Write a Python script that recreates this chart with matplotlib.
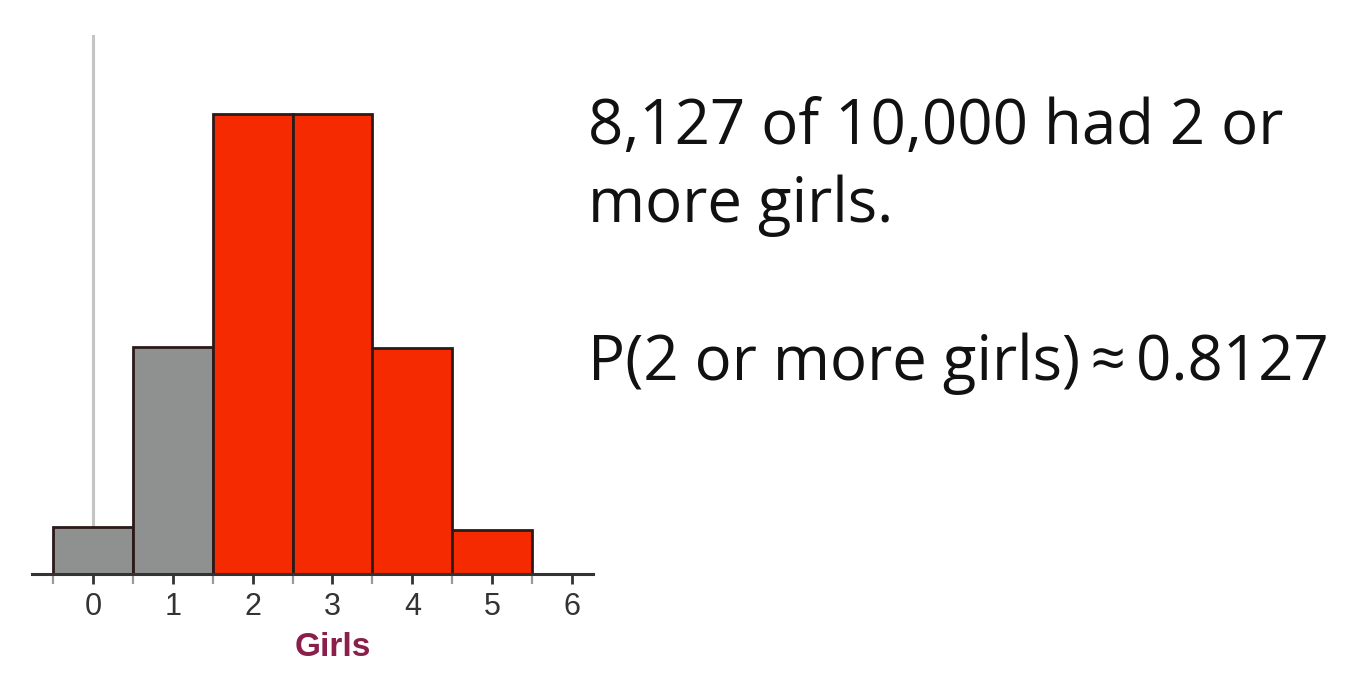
import matplotlib
matplotlib.use("Agg")
import matplotlib.pyplot as plt

# simulated families of 5 children, 10,000 runs
girls = [0, 1, 2, 3, 4, 5]
counts = [320, 1553, 3141, 3141, 1545, 300]
bar_colors = ["#8f9090", "#8f9090", "#f52a00", "#f52a00", "#f52a00", "#f52a00"]
tick_labels = ["0", "1", "2", "3", "4", "5", "6"]

line1 = "8,127 of 10,000 had 2 or"
line2 = "more girls."
line3 = "P(2 or more girls)\u2009\u2248\u20090.8127"

W, H = 1350, 679
fig = plt.figure(figsize=(W / 100, H / 100), dpi=100)
fig.patch.set_facecolor("white")

# axes placed in pixel terms
ax = fig.add_axes([32 / W, 105 / H, 561 / W, 539 / H])
ax.set_xlim(-0.765, 6.265)
ax.set_ylim(0, 3141 * 539 / 460)

ax.axvline(0, color="#c4c4c4", lw=2.2, zorder=0)
ax.bar(girls, counts, width=1.0, color=bar_colors, edgecolor="#2b1a18",
       linewidth=2.0, zorder=2)

for side in ["top", "right", "left"]:
    ax.spines[side].set_visible(False)
ax.spines["bottom"].set_color("#333333")
ax.spines["bottom"].set_linewidth(2.2)
ax.spines["bottom"].set_zorder(3)

ax.set_yticks([])
ax.set_xticks(range(len(tick_labels)))
ax.set_xticklabels(tick_labels)
ax.set_xticks([x + 0.5 for x in range(-1, 6)], minor=True)
ax.tick_params(axis="x", which="major", direction="out", length=7, width=2,
               color="#333333", labelsize=22, labelcolor="#333333", pad=6)
ax.tick_params(axis="x", which="minor", direction="out", length=7, width=1.6,
               color="#9a9a9a")
for lab in ax.get_xticklabels():
    lab.set_family("Liberation Sans")

ax.set_xlabel("Girls", fontsize=24, fontweight="bold", color="#8a1f4c",
              family="Liberation Sans", labelpad=7)
ax.xaxis.label.set_x((333 - 32) / 561)  # label sits under the 3 tick

# right-hand text
txt = dict(fontsize=44.5, family="Open Sans", color="#111111", va="baseline", ha="left")
fig.text(588 / W, 1 - 144 / H, line1, **txt)
fig.text(588 / W, 1 - 222 / H, line2, **txt)
fig.text(588 / W, 1 - 380 / H, line3, **txt)

fig.savefig("out.png", dpi=100, facecolor="white")
